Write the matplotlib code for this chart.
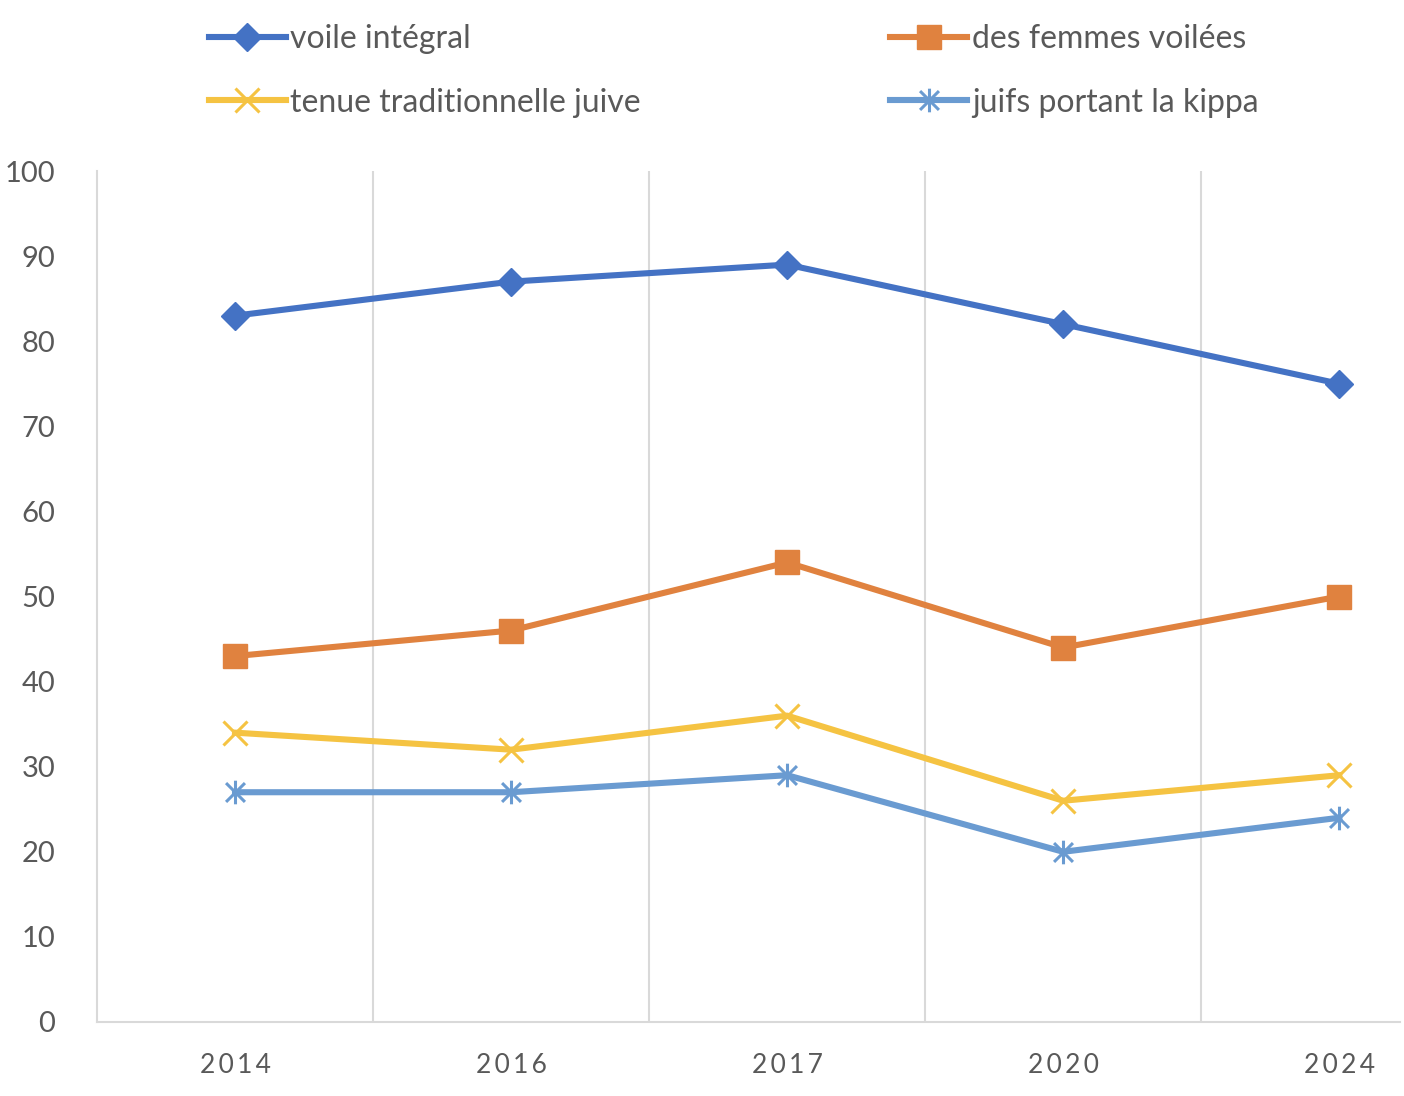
import matplotlib.pyplot as plt
import matplotlib.path as mpath
import numpy as np

years = ['2014', '2016', '2017', '2020', '2024']
voile_integral = [83, 87, 89, 82, 75]
femmes_voilees = [43, 46, 54, 44, 50]
tenue_juive = [34, 32, 36, 26, 29]
kippa = [27, 27, 29, 20, 24]

plt.rcParams['font.family'] = ['Lato', 'DejaVu Sans']
txt = '#595959'
grid = '#D9D9D9'

# Excel style asterisk: x with a vertical bar
star = mpath.Path(
    [(-1, -1), (1, 1), (-1, 1), (1, -1), (0, -1.25), (0, 1.25)],
    [mpath.Path.MOVETO, mpath.Path.LINETO,
     mpath.Path.MOVETO, mpath.Path.LINETO,
     mpath.Path.MOVETO, mpath.Path.LINETO])

fig = plt.figure(figsize=(14.04, 10.96), dpi=100)
ax = fig.add_axes([97/1404, 1-1022/1096, (1400-97)/1404, (1022-171)/1096])

x = np.arange(len(years))
lw = 4.4
l1, = ax.plot(x, voile_integral, color='#4472C4', lw=lw, marker='D', ms=14,
              label='voile intégral', zorder=3)
l2, = ax.plot(x, femmes_voilees, color='#E0823F', lw=lw, marker='s', ms=17,
              label='des femmes voilées', zorder=3)
l3, = ax.plot(x, tenue_juive, color='#F5C342', lw=lw, marker='x', ms=17, mew=2.2,
              label='tenue traditionnelle juive', zorder=3)
l4, = ax.plot(x, kippa, color='#6A9BD1', lw=lw, marker=star, ms=17, mew=2.2,
              label='juifs portant la kippa', zorder=3)

ax.set_xlim(-0.5, 4.22)
ax.set_ylim(0, 100)
ax.set_yticks(range(0, 101, 10))
ax.set_xticks(x)
ax.set_xticklabels(['\u2009'.join(y) for y in years])
for b in np.arange(0.5, 4.0, 1.0):
    ax.axvline(b, color=grid, lw=1.5, zorder=1)

for s in ['top', 'right']:
    ax.spines[s].set_visible(False)
ax.spines['left'].set_color(grid)
ax.spines['bottom'].set_color(grid)
ax.spines['left'].set_linewidth(1.5)
ax.spines['bottom'].set_linewidth(1.5)
ax.tick_params(axis='both', length=0, colors=txt)
ax.tick_params(axis='y', labelsize=21, pad=30)
ax.tick_params(axis='x', labelsize=19, pad=22)

# legend fills column-wise, so order the handles for row-wise reading
leg = fig.legend([l1, l3, l2, l4], [l.get_label() for l in (l1, l3, l2, l4)],
                 loc='upper left', bbox_to_anchor=(209/1404, 1-24/1096),
                 ncol=2, frameon=False, fontsize=23, handlelength=2.4,
                 handletextpad=0.15, columnspacing=7.8, labelspacing=1.05,
                 borderpad=0, borderaxespad=0)
for t in leg.get_texts():
    t.set_color(txt)

fig.savefig('out.png', dpi=100)
